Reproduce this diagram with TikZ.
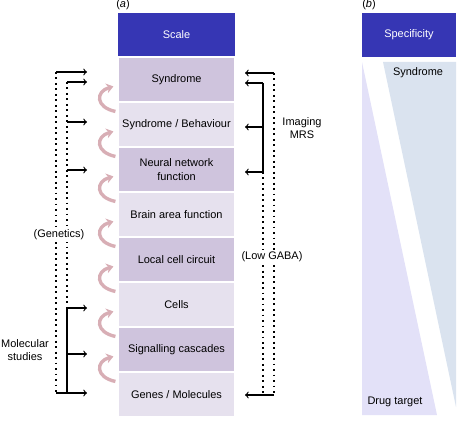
\documentclass[tikz,border=0pt]{standalone}
\usepackage{fontspec}
\setmainfont{Liberation Sans}
\usetikzlibrary{arrows.meta}
\definecolor{hdrblue}{HTML}{3636B4}
\definecolor{rowdark}{HTML}{CFC4DD}
\definecolor{rowlight}{HTML}{E6E1EE}
\definecolor{cycpink}{HTML}{D8AEB5}
\definecolor{lavtri}{HTML}{E3E1F8}
\definecolor{bluetri}{HTML}{DAE3EF}
\tikzset{
  txt/.style={font=\fontsize{7.8}{9.4}\selectfont, align=center, inner sep=1pt},
  hdr/.style={txt, fill=hdrblue, text=white, minimum width=2.925cm, minimum height=1.1cm},
  rowA/.style={txt, fill=rowdark, draw=white, line width=.8pt, minimum width=2.925cm, minimum height=1.125cm},
  rowB/.style={rowA, fill=rowlight},
  cyc/.style={draw=cycpink, line width=2.4pt, -{Stealth[length=5pt,width=7pt]}},
  dots/.style={line width=1.3pt, dash pattern=on 1.3pt off 2.6pt},
  brk/.style={line width=1.4pt},
  lbl/.style={txt, fill=white, inner sep=1.5pt},
}
\begin{document}
\begin{tikzpicture}[>=to, x=0.025cm, y=-0.025cm]
\useasboundingbox (0,0) rectangle (474,433);
\begin{scope}
    \node[txt] (la) at (123,5) {(\textit{a})};
    \node[hdr] (scale) at (176.5,35) {Scale};
    \node[rowA] (syn) at (176.5,79.5) {Syndrome};
    \node[rowB] (synbeh) at (176.5,124.5) {Syndrome / Behaviour};
    \node[rowA] (neural) at (176.5,169.5) {Neural network\\function};
    \node[rowB] (brain) at (176.5,214.5) {Brain area function};
    \node[rowA] (local) at (176.5,259.5) {Local cell circuit};
    \node[rowB] (cells) at (176.5,304.5) {Cells};
    \node[rowA] (signal) at (176.5,349.5) {Signalling cascades};
    \node[rowB] (genes) at (176.5,394.5) {Genes / Molecules};
    \foreach \r in {synbeh,neural,brain,local,cells,signal,genes}
        \draw[cyc] ([shift={(-2,10)}]\r.north west) .. controls +(-20,-4) and +(-18,5) .. ([shift={(-4,-15)}]\r.north west);

    % left side
    \coordinate (tipL) at (87,0);
    \coordinate (gtop) at (56,72);
    \coordinate (gbot) at (56,393);
    \coordinate (itop) at (67,82);
    \coordinate (imid1) at (67,122);
    \coordinate (imid2) at (67,170);
    \coordinate (mtop) at (67,308);
    \coordinate (mmid) at (67,354);
    \coordinate (mbot) at (67,393);
    \draw[dots] (gtop)--(gbot);
    \draw[dots] (itop)--(mtop);
    \draw[brk] (mtop)--(mbot);
    \draw[->, thick] (gtop)--(gtop -| tipL);
    \draw[->, thick] (gbot)--(gbot -| tipL);
    \draw[->, thick] (itop)--(itop -| tipL);
    \draw[->, thick] (imid1)--(imid1 -| tipL);
    \draw[->, thick] (imid2)--(imid2 -| tipL);
    \draw[->, thick] (mtop)--(mtop -| tipL);
    \draw[->, thick] (mmid)--(mmid -| tipL);
    \node[lbl] (gen) at (59,235) {(Genetics)};
    \node[txt] (mol) at (25,350) {Molecular\\studies};

    % right side
    \coordinate (tipR) at (245,0);
    \coordinate (otop) at (274,73);
    \coordinate (obot) at (274,395);
    \coordinate (rtop) at (263,83);
    \coordinate (rmid) at (263,127);
    \coordinate (rbot) at (263,172);
    \coordinate (rend) at (263,394);
    \draw[dots] (otop)--(obot);
    \draw[dots] (rbot)--(rend);
    \draw[brk] (rtop)--(rbot);
    \draw[->, thick] (otop)--(otop -| tipR);
    \draw[->, thick] (obot)--(obot -| tipR);
    \draw[->, thick] (rtop)--(rtop -| tipR);
    \draw[->, thick] (rmid)--(rmid -| tipR);
    \draw[->, thick] (rbot)--(rbot -| tipR);
    \node[lbl] (gaba) at (272,257) {(Low GABA)};
    \node[txt] (img) at (302,128) {Imaging\\MRS};
\end{scope}

\begin{scope}
    \node[txt] (lb) at (369,5) {(\textit{b})};
    \node[hdr, minimum width=2.35cm] (spec) at (409,35) {Specificity};
    \fill[lavtri] (362,62)--(362,415)--(437,415)--cycle;
    \fill[bluetri] (383,62)--(456,62)--(456,407)--cycle;
    \node[txt] (synb) at (418,73) {Syndrome};
    \node[txt] (drug) at (395,402) {Drug target};
\end{scope}
\end{tikzpicture}
\end{document}
